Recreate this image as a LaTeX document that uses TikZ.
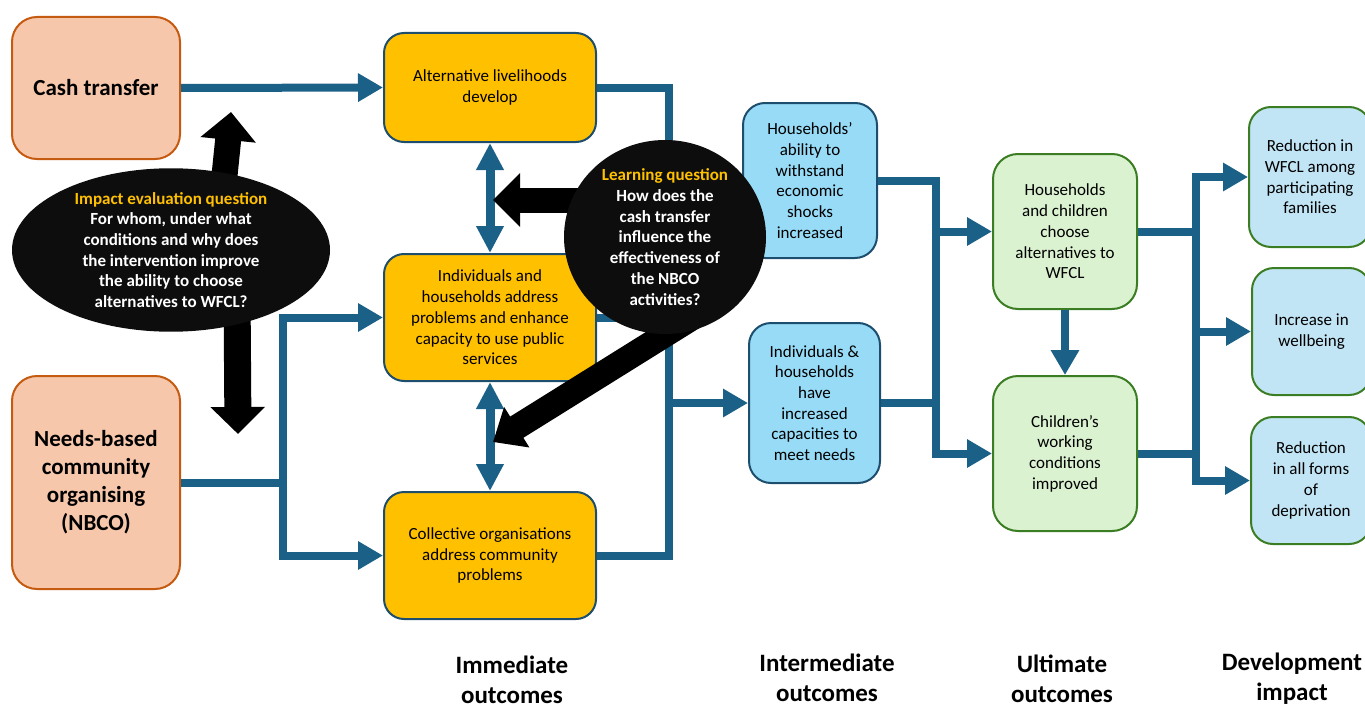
\documentclass[tikz,border=0pt]{standalone}
\usepackage{fontspec}
\setmainfont{Carlito}
\usetikzlibrary{arrows.meta,shapes.geometric}
\definecolor{peach}{HTML}{F7C7AC}
\definecolor{peachline}{HTML}{C55A11}
\definecolor{gold}{HTML}{FFC000}
\definecolor{navy}{HTML}{1D4E6E}
\definecolor{cblue}{HTML}{1B6086}
\definecolor{lblue}{HTML}{97DBF7}
\definecolor{lgreen}{HTML}{DAF2D0}
\definecolor{gline}{HTML}{3A7D22}
\definecolor{dblue}{HTML}{C2E5F5}
\definecolor{qblack}{HTML}{0D0D0D}
\begin{document}
\begin{tikzpicture}[x=1pt,y=-1pt,
  txt/.style={font=\fontsize{17}{20.7}\selectfont, align=center, inner sep=0pt},
  box/.style={txt, draw, line width=2pt, rounded corners=20pt},
  peachbox/.style={box, fill=peach, draw=peachline, rounded corners=25pt,
     font=\bfseries\fontsize{23}{28}\selectfont},
  goldbox/.style={box, fill=gold, draw=navy},
  ibox/.style={box, fill=lblue, draw=navy, rounded corners=22pt},
  gbox/.style={box, fill=lgreen, draw=gline, rounded corners=25pt},
  dbox/.style={box, fill=dblue, draw=gline, rounded corners=22pt},
  line/.style={draw=cblue, line width=8pt},
  conn/.style={draw=cblue, line width=8pt, -{Triangle[width=27pt,length=25pt]}},
  dbl/.style={draw=cblue, line width=9pt, {Triangle[width=26pt,length=27pt]}-{Triangle[width=26pt,length=27pt]}},
  blkarrow/.style={draw=black, line width=26pt, -{Triangle[width=54pt,length=28pt]}},
  question/.style={ellipse, fill=qblack, inner sep=0pt, text=white, align=center,
     font=\bfseries\fontsize{17}{20.7}\selectfont},
  heading/.style={align=center, inner sep=0pt, font=\bfseries\fontsize{25}{30}\selectfont}
]
\useasboundingbox (0,0) rectangle (1365,709);

% ---- nodes (boxes)
\node[peachbox, minimum width=168pt, minimum height=142pt] (cash) at (96,88) {Cash transfer};
\node[peachbox, minimum width=168pt, minimum height=213pt] (nbco) at (96,482.5) {Needs-based\\community\\organising\\(NBCO)};

\node[goldbox, minimum width=212pt, minimum height=109pt] (alt) at (490,87.5) {Alternative livelihoods\\develop};
\node[goldbox, minimum width=212pt, minimum height=127pt] (indiv) at (490,317.5) {Individuals and\\households address\\problems and enhance\\capacity to use public\\services};
\node[goldbox, minimum width=212pt, minimum height=127pt] (coll) at (490,555.5) {Collective organisations\\address community\\problems};

\node[ibox, minimum width=134pt, minimum height=155pt] (ha) at (810,180.5) {Households’\\ability to\\withstand\\economic\\shocks\\increased};
\node[ibox, minimum width=131pt, minimum height=160pt] (ih) at (814.5,403) {Individuals \&\\households\\have\\increased\\capacities to\\meet needs};

\node[gbox, minimum width=144pt, minimum height=155pt] (hc) at (1065,231.5) {Households\\and children\\choose\\alternatives to\\WFCL};
\node[gbox, minimum width=144pt, minimum height=155pt] (ch) at (1065,453.5) {Children’s\\working\\conditions\\improved};

\node[dbox, minimum width=122pt, minimum height=140pt] (dev1) at (1310,177) {Reduction in\\WFCL among\\participating\\families};
\node[dbox, minimum width=119pt, minimum height=127pt] (dev2) at (1311.5,331.5) {Increase in\\wellbeing};
\node[dbox, minimum width=120pt, minimum height=127pt] (dev3) at (1311,480.5) {Reduction\\in all forms\\of\\deprivation};

% ---- blue connectors
\coordinate (j1) at (283,482.5);
\coordinate (r1top) at (669,87.5);
\coordinate (r1bot) at (669,555.5);
\coordinate (r2top) at (936,180.5);
\coordinate (r2bot) at (936,403);
\coordinate (r3a) at (1196,231.5);
\coordinate (r3b) at (1196,453.5);

\draw[conn] (cash.east) -- (alt.west);
\draw[line] (nbco.east) -- (j1);
\draw[conn] (j1) |- (indiv.west);
\draw[conn] (j1) |- (coll.west);

\draw[dbl] (alt.south) -- (indiv.north);
\draw[dbl] (indiv.south) -- (coll.north);

\draw[line] (alt.east) -- (r1top) -- (r1bot) -- (coll.east);
\draw[line] (indiv.east) -- (indiv.east -| r1top);
\draw[conn] (r1top |- ih.west) -- (ih.west);

\draw[line] (ha.east) -- (r2top) -- (r2bot) -- (ih.east);
\draw[conn] (r2top |- hc.west) -- (hc.west);
\draw[conn] (r2bot) |- (ch.west);

\draw[conn] (hc.south) -- (ch.north);

\draw[line] (hc.east) -- (r3a);
\draw[line] (ch.east) -- (r3b);
\draw[line] (r3a) -- (r3b);
\draw[conn] (r3a) |- (dev1.west);
\draw[conn] (r3a) |- (dev2.west);
\draw[conn] (r3b) |- (dev3.west);

% ---- black arrows
\coordinate (upS) at (222,200);
\coordinate (upT) at (231,112);
\coordinate (dnS) at (237,290);
\coordinate (dnT) at (238,434);
\coordinate (lfS) at (640,200);
\coordinate (lfT) at (493,200);
\coordinate (dgS) at (708,308);
\coordinate (dgT) at (493,442);
\draw[blkarrow] (upS) -- (upT);
\draw[blkarrow, line width=27pt, -{Triangle[width=53pt,length=27pt]}] (dnS) -- (dnT);
\draw[blkarrow, line width=25pt, -{Triangle[width=52pt,length=27pt]}] (lfS) -- (lfT);
\draw[blkarrow, line width=25pt, -{Triangle[width=46pt,length=28pt]}] (dgS) -- (dgT);

% ---- question ellipses
\node[question, minimum width=318pt, minimum height=156pt] (ie) at (171,250)
  {{\color{gold}Impact evaluation question}\\For whom, under what\\conditions and why does\\the intervention improve\\the ability to choose\\alternatives to WFCL?};
\node[question, minimum width=202pt, minimum height=194pt] (lq) at (665,237)
  {{\color{gold}Learning question}\\How does the\\cash transfer\\influence the\\effectiveness of\\the NBCO\\activities?};

% ---- headings
\node[heading] (h1) at (512,680) {Immediate\\outcomes};
\node[heading] (h2) at (827,678) {Intermediate\\outcomes};
\node[heading] (h3) at (1062,679) {Ultimate\\outcomes};
\node[heading] (h4) at (1292,679) {Development\\impact};
\end{tikzpicture}
\end{document}
